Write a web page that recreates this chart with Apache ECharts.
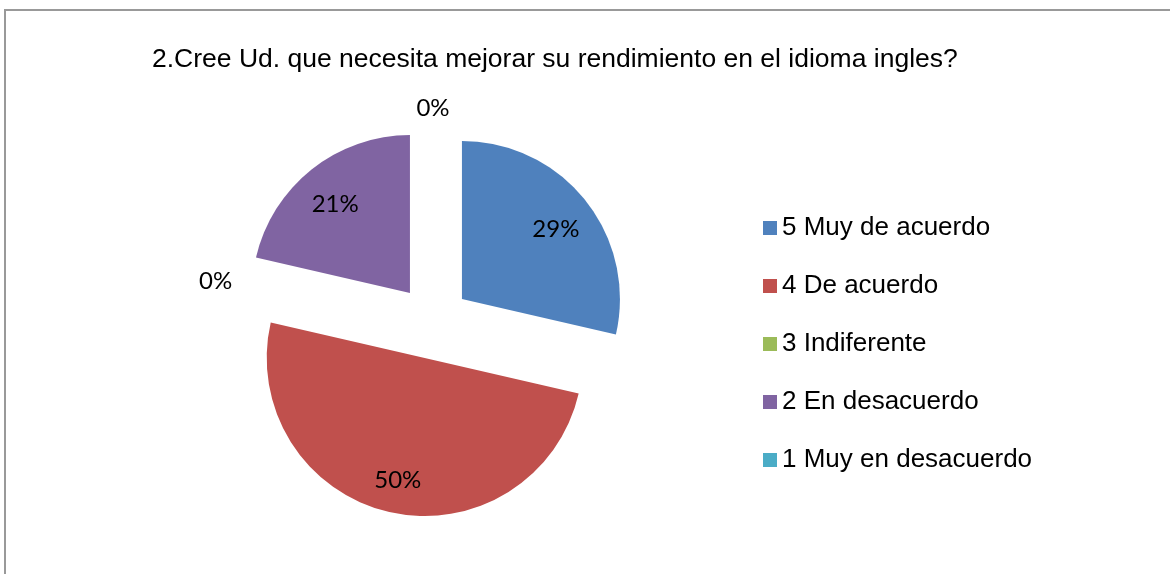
<!DOCTYPE html>
<html>
<head>
<meta charset="utf-8">
<script src="https://cdn.jsdelivr.net/npm/echarts@6/dist/echarts.min.js"></script>
<style>
html, body { margin: 0; padding: 0; background: #ffffff; }
#chart { width: 1170px; height: 574px; }
</style>
</head>
<body>
<div id="chart"></div>
<script>
const titleText = '2.Cree Ud. que necesita mejorar su rendimiento en el idioma ingles?';
const categories = ['5 Muy de acuerdo', '4 De acuerdo', '3 Indiferente', '2 En desacuerdo', '1 Muy en desacuerdo'];
const values = [28.6, 50, 0, 21.4, 0];
const colors = ['#4F81BD', '#C0504D', '#9BBB59', '#8064A2', '#4BACC6'];

const CENTER = [433, 322];
const R = 158;
const OFFSET = 37;
const labelFont = { fontFamily: 'Lato', fontSize: 24, color: '#000000' };

function baseSeries(radius, showFn, withColor, shiftY) {
  return {
    type: 'pie',
    center: CENTER,
    radius: radius,
    startAngle: 90,
    clockwise: true,
    selectedMode: 'multiple',
    selectedOffset: OFFSET,
    avoidLabelOverlap: false,
    percentPrecision: 0,
    animation: false,
    silent: !withColor,
    emphasis: { disabled: true },
    select: { itemStyle: { borderWidth: 0 } },
    labelLine: { show: false },
    labelLayout: { dy: shiftY },
    data: categories.map((name, i) => ({
      name: name,
      value: values[i],
      selected: true,
      itemStyle: withColor ? { color: colors[i] } : { color: 'rgba(0,0,0,0)' },
      label: {
        show: showFn(values[i]),
        position: 'inside',
        formatter: '{d}%',
        ...labelFont
      }
    }))
  };
}

const chart = echarts.init(document.getElementById('chart'), null, { renderer: 'canvas' });
chart.setOption({
  backgroundColor: '#ffffff',
  color: colors,
  animation: false,
  title: {
    text: titleText,
    left: 152,
    top: 46,
    padding: 0,
    textStyle: { fontFamily: 'Liberation Sans', fontSize: 26.5, fontWeight: 'normal', color: '#000000' }
  },
  legend: {
    orient: 'vertical',
    left: 758,
    top: 210,
    icon: 'rect',
    itemWidth: 14,
    itemHeight: 14,
    itemGap: 32,
    selectedMode: false,
    data: categories,
    textStyle: { fontFamily: 'Liberation Sans', fontSize: 26, lineHeight: 26, color: '#000000' }
  },
  graphic: [{
    type: 'rect',
    silent: true,
    shape: { x: 5, y: 10, width: 1300, height: 700 },
    style: { fill: 'none', stroke: '#999999', lineWidth: 2 }
  }],
  series: [
    Object.assign(baseSeries(R, () => false, true, 0), { label: { show: false } }),
    baseSeries([76, R], v => v > 0, false, 5),
    baseSeries([166, 200], v => v === 0, false, 9)
  ]
});
</script>
</body>
</html>
